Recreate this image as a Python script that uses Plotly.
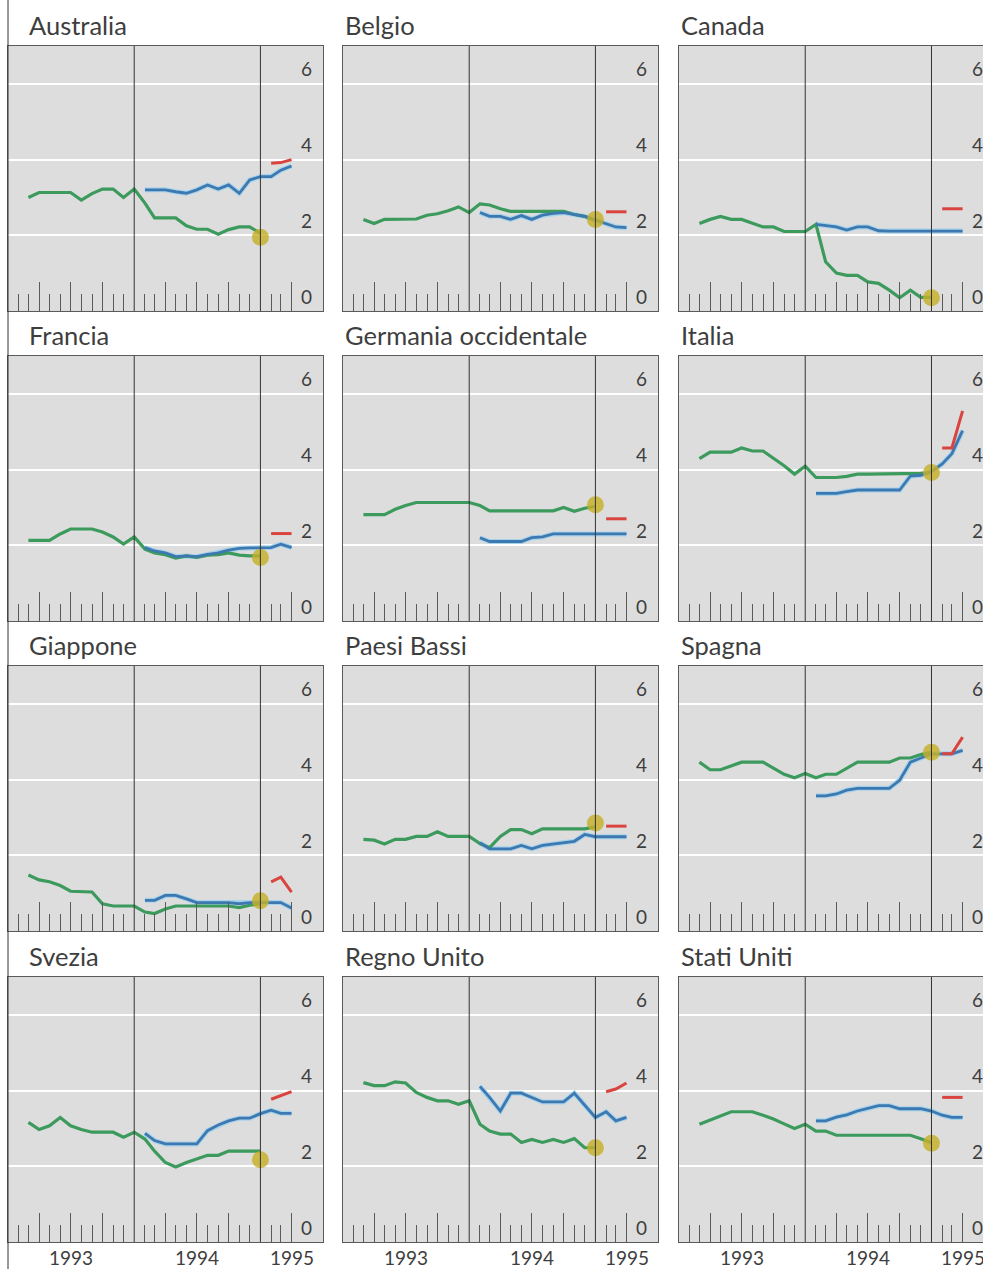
import pandas as pd
import plotly.graph_objects as go

# ---- dati (tassi mensili, %) ----
mesi_verde = pd.date_range("1993-03-01", "1995-01-01", freq="MS")   # serie storica
mesi_blu = pd.date_range("1994-02-01", "1995-04-01", freq="MS")     # previsioni
mesi_rosso = pd.date_range("1995-02-01", "1995-04-01", freq="MS")   # stime recenti
data_punto = "1995-01-01"

paesi = ["Australia", "Belgio", "Canada", "Francia", "Germania occidentale", "Italia",
         "Giappone", "Paesi Bassi", "Spagna", "Svezia", "Regno Unito", "Stati Uniti"]

australia_verde = [3.0, 3.13, 3.13, 3.13, 3.13, 2.93, 3.1, 3.22, 3.22, 3.0, 3.22, 2.85,
                   2.46, 2.46, 2.46, 2.25, 2.16, 2.16, 2.03, 2.15, 2.22, 2.22, 2.05]
australia_blu = [3.2, 3.2, 3.2, 3.15, 3.11, 3.2, 3.33, 3.22, 3.33, 3.11, 3.46, 3.55, 3.55, 3.72, 3.83]
australia_rosso = [3.9, 3.92, 4.0]

belgio_verde = [2.42, 2.31, 2.42, 2.42, 2.42, 2.43, 2.53, 2.57, 2.65, 2.75, 2.6, 2.83,
                2.8, 2.7, 2.63, 2.63, 2.63, 2.63, 2.63, 2.63, 2.55, 2.5, 2.4]
belgio_blu = [2.6, 2.5, 2.5, 2.42, 2.52, 2.42, 2.53, 2.58, 2.6, 2.55, 2.5, 2.4, 2.3, 2.22, 2.2]
belgio_rosso = [2.62, 2.62, 2.62]

canada_verde = [2.31, 2.42, 2.5, 2.42, 2.42, 2.32, 2.22, 2.22, 2.1, 2.1, 2.1, 2.29,
                1.3, 1.0, 0.94, 0.94, 0.77, 0.73, 0.55, 0.35, 0.55, 0.36, 0.36]
canada_blu = [2.29, 2.25, 2.22, 2.14, 2.22, 2.22, 2.12, 2.11, 2.11, 2.11, 2.11, 2.11, 2.11, 2.11, 2.11]
canada_rosso = [2.7, 2.7, 2.7]

francia_verde = [2.13, 2.13, 2.13, 2.3, 2.43, 2.43, 2.43, 2.35, 2.22, 2.03, 2.22, 1.9,
                 1.8, 1.75, 1.66, 1.72, 1.68, 1.74, 1.75, 1.8, 1.74, 1.72, 1.72]
francia_blu = [1.94, 1.85, 1.8, 1.7, 1.72, 1.7, 1.76, 1.8, 1.87, 1.92, 1.93, 1.94, 1.94, 2.03, 1.94]
francia_rosso = [2.31, 2.31, 2.31]

germania_verde = [2.81, 2.81, 2.81, 2.95, 3.05, 3.13, 3.13, 3.13, 3.13, 3.13, 3.13, 3.05,
                  2.91, 2.91, 2.91, 2.91, 2.91, 2.91, 2.91, 3.0, 2.9, 2.98, 3.03]
germania_blu = [2.2, 2.1, 2.1, 2.1, 2.1, 2.2, 2.22, 2.3, 2.3, 2.3, 2.3, 2.3, 2.3, 2.3, 2.3]
germania_rosso = [2.7, 2.7, 2.7]

italia_verde = [4.29, 4.46, 4.46, 4.46, 4.57, 4.49, 4.49, 4.3, 4.1, 3.88, 4.09, 3.79,
                3.79, 3.79, 3.82, 3.88, 3.88, 3.88, 3.88, 3.88, 3.88, 3.9, 3.92]
italia_blu = [3.37, 3.37, 3.37, 3.42, 3.46, 3.46, 3.46, 3.46, 3.46, 3.83, 3.85, 3.95, 4.15, 4.42, 5.03]
italia_rosso = [4.57, 4.57, 5.55]

giappone_verde = [1.48, 1.35, 1.3, 1.2, 1.05, 1.03, 1.03, 0.72, 0.66, 0.66, 0.66, 0.5,
                  0.46, 0.58, 0.66, 0.66, 0.66, 0.66, 0.66, 0.66, 0.62, 0.68, 0.72]
giappone_blu = [0.81, 0.81, 0.94, 0.94, 0.85, 0.75, 0.75, 0.75, 0.75, 0.72, 0.75, 0.75, 0.75, 0.75, 0.61]
giappone_rosso = [1.3, 1.42, 1.03]

paesi_bassi_verde = [2.42, 2.4, 2.3, 2.42, 2.42, 2.5, 2.5, 2.62, 2.5, 2.5, 2.5, 2.31,
                     2.2, 2.5, 2.68, 2.68, 2.57, 2.7, 2.7, 2.7, 2.7, 2.7, 2.75]
paesi_bassi_blu = [2.33, 2.17, 2.17, 2.17, 2.26, 2.17, 2.26, 2.3, 2.35, 2.37, 2.55, 2.49, 2.49, 2.49, 2.49]
paesi_bassi_rosso = [2.77, 2.77, 2.77]

spagna_verde = [4.46, 4.26, 4.26, 4.36, 4.46, 4.46, 4.46, 4.3, 4.14, 4.05, 4.16, 4.05,
                4.14, 4.14, 4.3, 4.46, 4.46, 4.46, 4.46, 4.57, 4.57, 4.66, 4.72]
spagna_blu = [3.57, 3.57, 3.62, 3.72, 3.77, 3.77, 3.77, 3.77, 3.98, 4.46, 4.57, 4.68, 4.68, 4.68, 4.77]
spagna_rosso = [4.68, 4.68, 5.12]

svezia_verde = [3.16, 2.97, 3.07, 3.29, 3.07, 2.97, 2.9, 2.9, 2.9, 2.77, 2.9, 2.72,
                2.4, 2.1, 1.98, 2.1, 2.2, 2.29, 2.29, 2.4, 2.4, 2.4, 2.4]
svezia_blu = [2.87, 2.68, 2.59, 2.59, 2.59, 2.59, 2.94, 3.09, 3.2, 3.27, 3.27, 3.39, 3.48, 3.4, 3.4]
svezia_rosso = [3.77, 3.87, 3.97]

regno_unito_verde = [4.21, 4.13, 4.13, 4.23, 4.2, 3.95, 3.82, 3.73, 3.73, 3.64, 3.73, 3.11,
                     2.93, 2.85, 2.85, 2.63, 2.71, 2.63, 2.71, 2.63, 2.73, 2.49, 2.49]
regno_unito_blu = [4.11, 3.82, 3.46, 3.93, 3.93, 3.82, 3.7, 3.7, 3.7, 3.93, 3.6, 3.29, 3.44, 3.2, 3.29]
regno_unito_rosso = [3.97, 4.04, 4.2]

stati_uniti_verde = [3.11, 3.22, 3.33, 3.44, 3.44, 3.44, 3.35, 3.25, 3.12, 3.0, 3.11, 2.93,
                     2.93, 2.82, 2.82, 2.82, 2.82, 2.82, 2.82, 2.82, 2.82, 2.73, 2.62]
stati_uniti_blu = [3.2, 3.2, 3.3, 3.36, 3.46, 3.52, 3.6, 3.6, 3.52, 3.52, 3.52, 3.46, 3.35, 3.29, 3.29]
stati_uniti_rosso = [3.82, 3.82, 3.82]

# ultimo valore evidenziato (pallino giallo)
punto = [1.95, 2.42, 0.35, 1.68, 3.07, 3.92, 0.8, 2.85, 4.72, 2.17, 2.49, 2.61]

valori_y = [0, 2, 4, 6]
etichette_anni = ["1993", "1994", "1995"]
posizioni_anni = ["1993-07-01", "1994-07-01", "1995-04-01"]
anni_divisori = ["1994-01-01", "1995-01-01"]

serie = [
    (australia_verde, australia_blu, australia_rosso),
    (belgio_verde, belgio_blu, belgio_rosso),
    (canada_verde, canada_blu, canada_rosso),
    (francia_verde, francia_blu, francia_rosso),
    (germania_verde, germania_blu, germania_rosso),
    (italia_verde, italia_blu, italia_rosso),
    (giappone_verde, giappone_blu, giappone_rosso),
    (paesi_bassi_verde, paesi_bassi_blu, paesi_bassi_rosso),
    (spagna_verde, spagna_blu, spagna_rosso),
    (svezia_verde, svezia_blu, svezia_rosso),
    (regno_unito_verde, regno_unito_blu, regno_unito_rosso),
    (stati_uniti_verde, stati_uniti_blu, stati_uniti_rosso),
]

# ---- stile ----
W, H = 983, 1269
FONT = "Lato"
VERDE = "#3b9a5c"
BLU = "#3d79b0"
ALONE_BLU = "#a6d3ec"
ROSSO = "#d9443f"
GIALLO = "rgba(198,176,40,0.82)"
SFONDO = "#dddddd"
CORNICE = "#5a5a5a"
TESTO = "#3e3e3e"

col_left = [8, 343, 679]
plot_w = 315
row_top = [46, 356, 666, 977]
plot_h = 265

inizio = pd.Timestamp("1993-01-01")
fine = pd.Timestamp("1995-07-01")
giorni_tot = (fine - inizio).days

mesi_tutti = pd.date_range("1993-02-01", "1995-04-01", freq="MS")
tick_lunghi = [d.strftime("%Y-%m-%d") for d in mesi_tutti if d.month in (4, 7, 10)]
tick_corti = [d.strftime("%Y-%m-%d") for d in mesi_tutti if d.month not in (1, 4, 7, 10)]

fig = go.Figure()
layout = dict(
    width=W, height=H, margin=dict(l=0, r=0, t=0, b=0),
    paper_bgcolor="white", plot_bgcolor=SFONDO, showlegend=False,
    font=dict(family=FONT, color=TESTO),
)
annotazioni = []
forme = []

for i, (nome, (verde, blu, rosso)) in enumerate(zip(paesi, serie)):
    r, c = divmod(i, 3)
    n = i + 1
    xa = "x" if n == 1 else f"x{n}"
    ya = "y" if n == 1 else f"y{n}"
    xkey = "xaxis" if n == 1 else f"xaxis{n}"
    ykey = "yaxis" if n == 1 else f"yaxis{n}"

    left = col_left[c]
    right = min(left + plot_w, W)
    giorni = round(giorni_tot * (right - left) / plot_w)
    fine_asse = (inizio + pd.Timedelta(days=giorni)).strftime("%Y-%m-%d")

    layout[xkey] = dict(
        type="date", domain=[left / W, right / W], anchor=ya,
        range=[inizio.strftime("%Y-%m-%d"), fine_asse], fixedrange=True,
        showline=True, linecolor=CORNICE, linewidth=1, mirror=True,
        showgrid=False, zeroline=False, showticklabels=False,
        ticks="inside", tickmode="array", tickvals=tick_lunghi,
        ticklen=29, tickwidth=1, tickcolor=CORNICE,
        minor=dict(ticks="inside", tickmode="array", tickvals=tick_corti,
                   ticklen=17, tickwidth=1, tickcolor=CORNICE, showgrid=False),
    )
    layout[ykey] = dict(
        domain=[1 - (row_top[r] + plot_h) / H, 1 - row_top[r] / H], anchor=xa,
        range=[0, 7], fixedrange=True,
        showline=True, linecolor=CORNICE, linewidth=1, mirror=(c < 2),
        tickmode="array", tickvals=[2, 4, 6], showgrid=True,
        gridcolor="white", gridwidth=2, zeroline=False,
        showticklabels=False, ticks="",
    )

    # linee di separazione degli anni
    for d in anni_divisori:
        forme.append(dict(type="line", xref=xa, yref=f"{ya} domain",
                          x0=d, x1=d, y0=0, y1=1, layer="above",
                          line=dict(color="#333333", width=1)))

    fig.add_trace(go.Scatter(x=mesi_blu, y=blu, mode="lines", xaxis=xa, yaxis=ya,
                             line=dict(color=ALONE_BLU, width=5), hoverinfo="skip"))
    fig.add_trace(go.Scatter(x=mesi_verde, y=verde, mode="lines", xaxis=xa, yaxis=ya,
                             line=dict(color=VERDE, width=3.2)))
    fig.add_trace(go.Scatter(x=mesi_blu, y=blu, mode="lines", xaxis=xa, yaxis=ya,
                             line=dict(color=BLU, width=2.8)))
    fig.add_trace(go.Scatter(x=mesi_rosso, y=rosso, mode="lines", xaxis=xa, yaxis=ya,
                             line=dict(color=ROSSO, width=3)))
    fig.add_trace(go.Scatter(x=[data_punto], y=[punto[i]], mode="markers", xaxis=xa, yaxis=ya,
                             marker=dict(color=GIALLO, size=17, line=dict(width=0)),
                             cliponaxis=False))

    # titolo del pannello
    annotazioni.append(dict(
        text=nome, xref="paper", yref="paper",
        x=(27 if c == 0 else left) / W, y=1 - (row_top[r] - 21) / H,
        xanchor="left", yanchor="middle", showarrow=False,
        font=dict(size=25.5, color=TESTO, family=FONT),
    ))
    # etichette dell'asse verticale, dentro il pannello a destra
    for v in valori_y:
        annotazioni.append(dict(
            text=str(v), xref=xa, yref=ya, x="1995-05-13", y=v, yshift=15,
            xanchor="center", yanchor="middle", showarrow=False,
            font=dict(size=19, color=TESTO, family=FONT),
        ))
    # anni sotto l'ultima riga
    if r == 3:
        for txt, pos in zip(etichette_anni, posizioni_anni):
            annotazioni.append(dict(
                text=txt, xref=xa, yref="paper", x=pos, y=1 - 1257 / H,
                xanchor="center", yanchor="middle", showarrow=False,
                font=dict(size=19, color=TESTO, family=FONT),
            ))

# bordo sinistro della tavola
forme.append(dict(type="line", xref="paper", yref="paper",
                  x0=col_left[0] / W, x1=col_left[0] / W, y0=0, y1=1,
                  line=dict(color="#333333", width=1)))

layout["annotations"] = annotazioni
layout["shapes"] = forme
fig.update_layout(**layout)
fig.write_html("out.html", include_plotlyjs=True, config={"displayModeBar": False})
